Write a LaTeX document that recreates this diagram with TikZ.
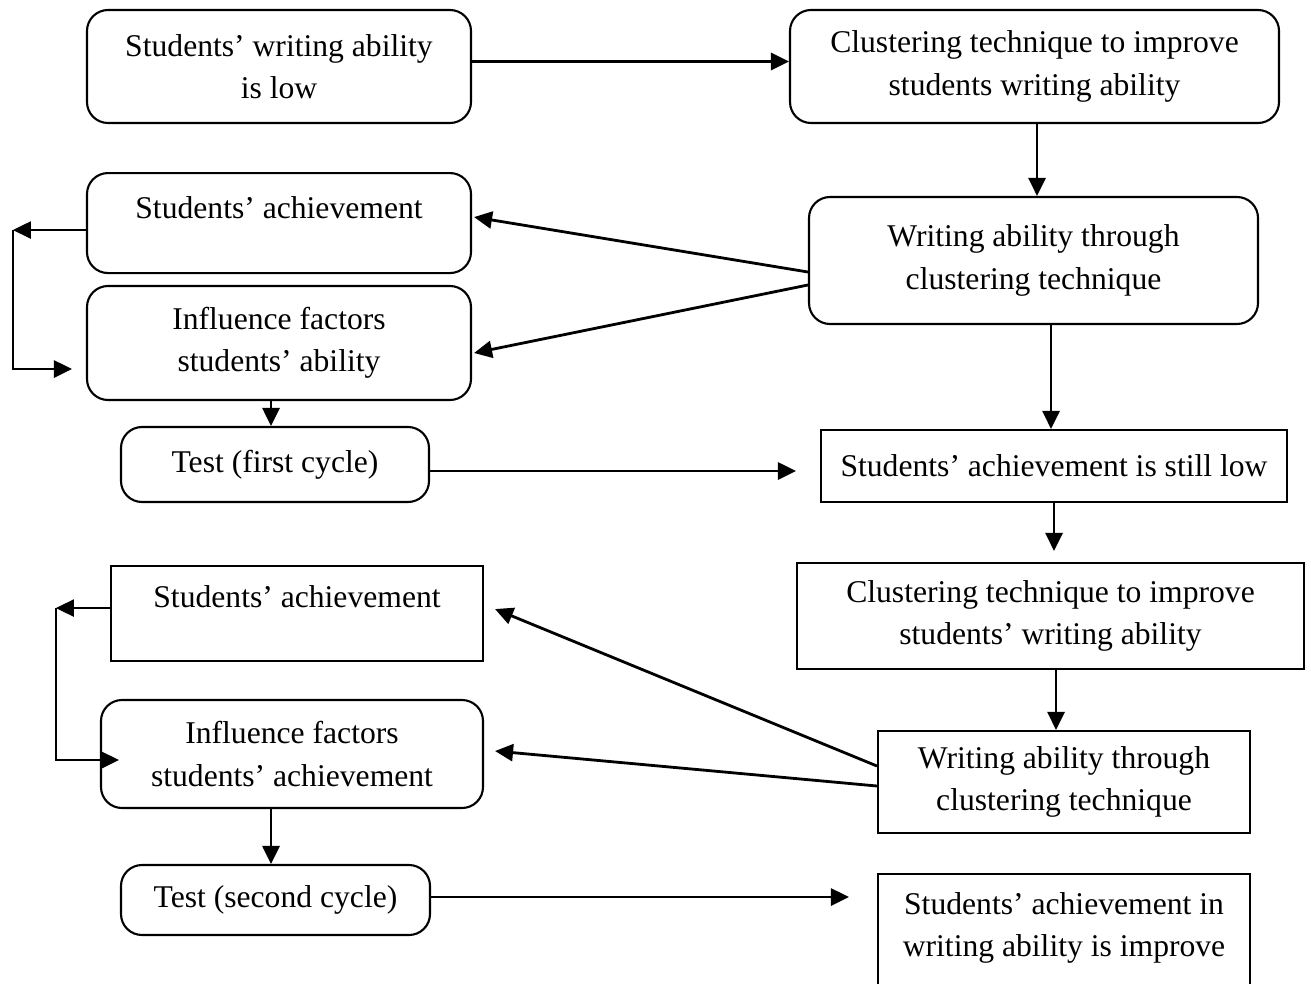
\documentclass[tikz,border=0pt]{standalone}
\usepackage{fontspec}
\setmainfont{Liberation Serif}
\usetikzlibrary{arrows.meta,calc}

\begin{document}
\begin{tikzpicture}[
		every node/.style={font=\fontsize{18}{24}\selectfont},
		sbox/.style={draw, line width=1.2pt, rectangle, inner sep=0pt, align=center},
		rbox/.style={sbox, rounded corners=0.42cm},
		arr/.style={line width=1.6pt, -{Triangle[length=0.36cm,width=0.34cm]}}
	]
	\useasboundingbox (0,0) rectangle (26.22,-19.66);
	\clip (0,0) rectangle (26.22,-19.66);

	% Top row
	\node[rbox, minimum width=7.68cm, minimum height=2.26cm] (low) at (5.58,-1.33) {Students’ writing ability\\is low};
	\node[rbox, minimum width=9.78cm, minimum height=2.26cm] (clus) at (20.69,-1.33) {Clustering technique to improve\\students writing ability};

	% First cycle
	\node[rbox, anchor=north, minimum width=7.68cm, text height=0.91cm, text depth=1.09cm] (ach) at (5.58,-3.44) {Students’ achievement};
	\node[rbox, minimum width=8.98cm, minimum height=2.54cm] (thru) at (20.67,-5.21) {Writing ability through\\clustering technique};
	\node[rbox, minimum width=7.68cm, minimum height=2.28cm] (infl) at (5.58,-6.86) {Influence factors\\students’ ability};
	\node[rbox, minimum width=6.16cm, minimum height=1.5cm] (test) at (5.5,-9.29) {Test (first cycle)};
	\node[sbox, minimum width=9.32cm, minimum height=1.44cm] (still) at (21.08,-9.32) {Students’ achievement is still low};

	% Second cycle
	\node[sbox, minimum width=10.14cm, minimum height=2.12cm] (clusb) at (21.01,-12.32) {Clustering technique to improve\\students’ writing ability};
	\node[sbox, anchor=north, minimum width=7.44cm, text height=0.83cm, text depth=1.07cm] (achb) at (5.94,-11.30) {Students’ achievement};
	\node[rbox, minimum width=7.64cm, minimum height=2.16cm] (inflb) at (5.84,-15.08) {Influence factors\\students’ achievement};
	\node[sbox, minimum width=7.44cm, minimum height=2.04cm] (thrub) at (21.28,-15.64) {Writing ability through\\clustering technique};
	\node[rbox, minimum width=6.18cm, minimum height=1.4cm] (testb) at (5.51,-18.0) {Test (second cycle)};
	\node[sbox, anchor=north, minimum width=7.44cm] (impr) at (21.28,-17.46) {\parbox[c][3cm][t]{7.44cm}{\centering\vspace*{0.37cm}Students’ achievement in\\writing ability is improve}};

	% Arrows, first cycle
	\draw[arr] ([yshift=0.1cm]low.east) -- ([yshift=0.1cm]low.east -| clus.west);
	\draw[arr] ([xshift=0.05cm]clus.south) -- ([xshift=0.05cm]clus.south |- thru.north);
	\draw[arr] ([yshift=-0.23cm]thru.west) -- ([xshift=0.04cm,yshift=0.12cm]ach.east);
	\draw[arr] ([yshift=-0.49cm]thru.west) -- ([xshift=0.04cm,yshift=-0.2cm]infl.east);
	\coordinate (ka) at ([xshift=-1.46cm,yshift=-0.14cm]ach.west);
	\draw[arr] ([yshift=-0.14cm]ach.west) -- (ka);
	\draw[arr] (ka) |- ([xshift=-0.28cm,yshift=-0.52cm]infl.west);
	\draw[arr] ([xshift=-0.16cm]infl.south) -- ([xshift=-0.16cm]infl.south |- test.north);
	\draw[arr, shorten >=0.48cm] ([yshift=-0.13cm]test.east) -- ([yshift=-0.13cm]test.east -| still.west);
	\draw[arr] ([xshift=0.35cm]thru.south) -- ([xshift=0.35cm]thru.south |- still.north);

	% Arrows, second cycle
	\draw[arr, shorten >=0.22cm] (still.south) -- (still.south |- clusb.north);
	\draw[arr] ([xshift=0.11cm]clusb.south) -- ([xshift=0.11cm]clusb.south |- thrub.north);
	\draw[arr] ([yshift=0.32cm]thrub.west) -- ([xshift=0.22cm,yshift=0.09cm]achb.east);
	\draw[arr] ([yshift=-0.08cm]thrub.west) -- ([xshift=0.22cm,yshift=0.06cm]inflb.east);
	\coordinate (kb) at ([xshift=-1.08cm,yshift=0.11cm]achb.west);
	\draw[arr] ([yshift=0.11cm]achb.west) -- (kb);
	\draw[arr] (kb) |- ([xshift=0.38cm,yshift=-0.12cm]inflb.west);
	\draw[arr] ([xshift=-0.42cm]inflb.south) -- ([xshift=-0.42cm]inflb.south |- testb.north);
	\draw[arr, shorten >=0.56cm] ([yshift=0.06cm]testb.east) -- ([yshift=0.06cm]testb.east -| impr.west);
\end{tikzpicture}
\end{document}
